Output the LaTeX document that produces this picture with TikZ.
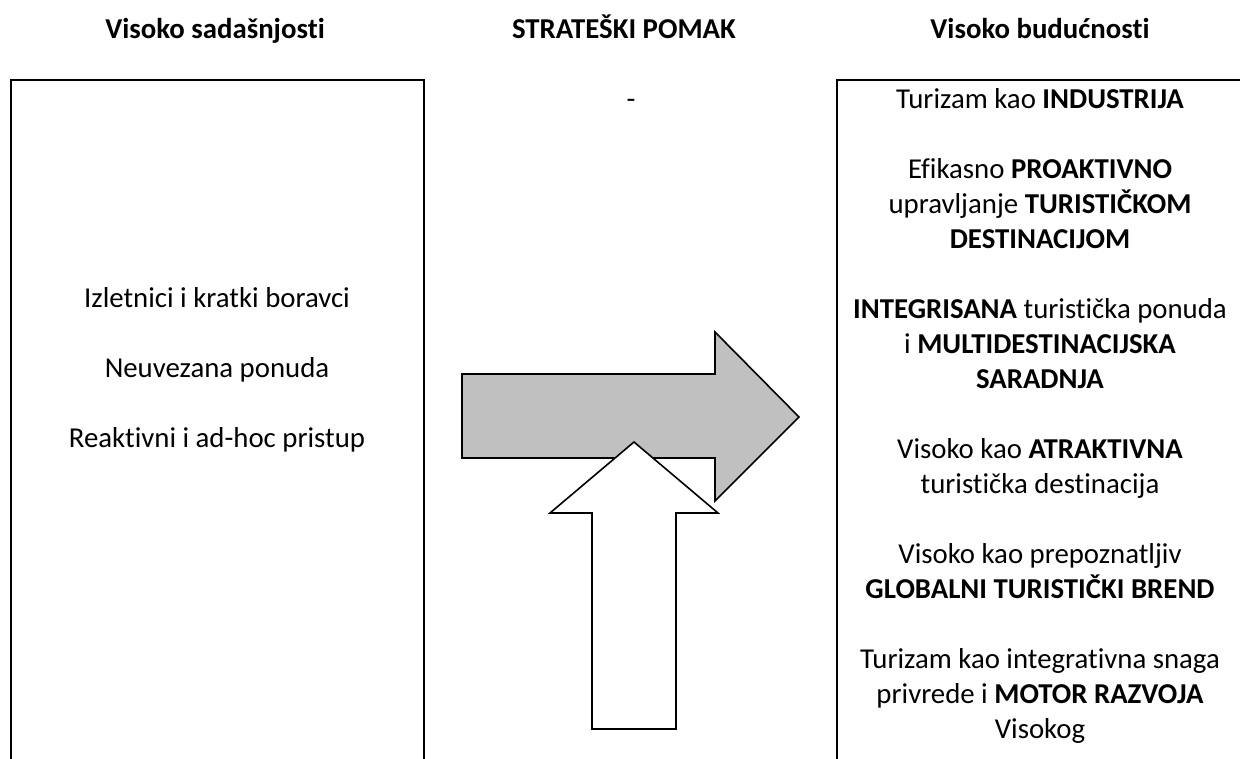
\documentclass[tikz,border=0pt]{standalone}
\usepackage{fontspec}
\setmainfont[Ligatures={NoCommon}]{Carlito}
\begin{document}
\begin{tikzpicture}[x=1pt,y=-1pt,
  txt/.style={font=\fontsize{28.8}{35}\selectfont, align=center, anchor=base, inner sep=0pt},
  ttl/.style={txt, font=\fontsize{28.8}{35}\selectfont\bfseries},
  frame/.style={draw=black, line width=2.3pt},
  bigarrow/.style={draw=black, line width=1.6pt, line join=miter}]
\useasboundingbox (0,0) rectangle (1240,758);
\clip (0,0) rectangle (1240,758);
\fill[white] (0,0) rectangle (1240,758);

% titles
\node[ttl] (t1) at (215,38) {Visoko sadašnjosti};
\node[ttl] (t2) at (624,38) {STRATEŠKI POMAK};
\node[ttl] (t3) at (1040,38) {Visoko budućnosti};

% frames
\draw[frame] (11,790) -- (11,80) -- (424,80) -- (424,790);
\draw[frame] (837,790) -- (837,80) -- (1260,80) -- (1260,790);

% middle
\node[txt] (dash) at (631,108) {-};

% gray arrow
\draw[bigarrow, fill={rgb,255:red,192;green,192;blue,192}]
  (462,374) -- (715,374) -- (715,332) -- (799,417) -- (715,501) -- (715,458) -- (462,458) -- cycle;
% white arrow
\draw[bigarrow, fill=white]
  (634,442) -- (718,513) -- (676,513) -- (676,729) -- (592,729) -- (592,513) -- (550,513) -- cycle;

% left column
\node[txt] (l1) at (217,307) {Izletnici i kratki boravci};
\node[txt] (l2) at (217,377) {Neuvezana ponuda};
\node[txt] (l3) at (217,447) {Reaktivni i ad-hoc pristup};

% right column (base anchor = baseline of last line)
\node[txt] (r1) at (1040,108) {Turizam kao \textbf{INDUSTRIJA}};
\node[txt] (r2) at (1040,248) {Efikasno \textbf{PROAKTIVNO}\\upravljanje \textbf{TURISTIČKOM}\\\textbf{DESTINACIJOM}};
\node[txt] (r3) at (1040,388) {\textbf{INTEGRISANA} turistička ponuda\\i \textbf{MULTIDESTINACIJSKA}\\\textbf{SARADNJA}};
\node[txt] (r4) at (1040,493) {Visoko kao \textbf{ATRAKTIVNA}\\turistička destinacija};
\node[txt] (r5) at (1040,598) {Visoko kao prepoznatljiv\\\textbf{GLOBALNI TURISTIČKI BREND}};
\node[txt] (r6) at (1040,738) {Turizam kao integrativna snaga\\privrede i \textbf{MOTOR RAZVOJA}\\Visokog};
\end{tikzpicture}
\end{document}
